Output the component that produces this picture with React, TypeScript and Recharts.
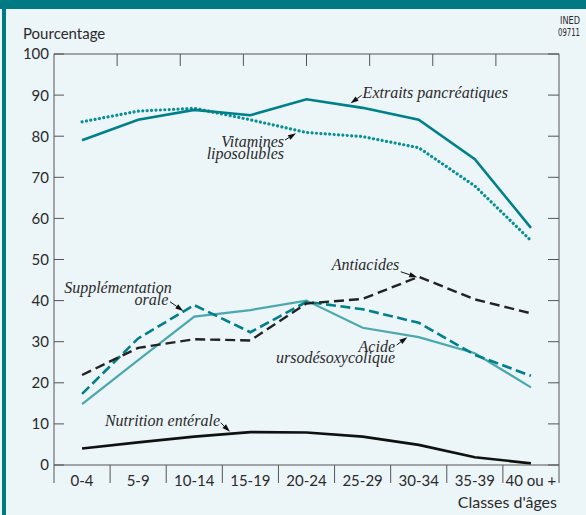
import React from "react";
import { LineChart, Line, XAxis, YAxis, ReferenceDot } from "recharts";

// ---------- data ----------
const categories = ["0-4", "5-9", "10-14", "15-19", "20-24", "25-29", "30-34", "35-39", "40 ou +"];
const extraitsPancreatiques = [79, 84, 86.4, 85.1, 89, 86.9, 84, 74.4, 57.7];
const vitaminesLiposolubles = [83.5, 86.1, 86.8, 84, 80.9, 79.9, 77.2, 67.9, 54.6];
const antiacides = [21.9, 28.5, 30.6, 30.3, 39.3, 40.4, 45.8, 40.3, 36.9];
const supplementationOrale = [17.3, 30.8, 38.9, 32.3, 39.7, 37.9, 34.6, 26.8, 21.7];
const acideUrsodesoxycolique = [14.8, 25.5, 36.1, 37.7, 40.0, 33.4, 31.1, 27.2, 18.9];
const nutritionEnterale = [4.0, 5.5, 6.9, 8.0, 7.9, 6.9, 4.9, 1.9, 0.4];
const yTicks = [0, 10, 20, 30, 40, 50, 60, 70, 80, 90, 100];
const topDivisions = [1, 2, 3, 4, 5, 6, 7];

const data = categories.map((cat, i) => ({
  cat,
  extraits: extraitsPancreatiques[i],
  vitamines: vitaminesLiposolubles[i],
  antiacides: antiacides[i],
  supplementation: supplementationOrale[i],
  acide: acideUrsodesoxycolique[i],
  nutrition: nutritionEnterale[i],
}));

// ---------- layout / style ----------
const W = 586;
const H = 515;
const LEFT_AXIS_W = 54;
const RIGHT_AXIS_W = 27;
const PLOT_W = W - LEFT_AXIS_W - RIGHT_AXIS_W;
const HALF = PLOT_W / categories.length / 2;

const BG = "#ecf5f8";
const FRAME = "#007a82";
const TEAL = "#00808a";
const TEAL_DOT = "#078f96";
const LIGHT_TEAL = "#4aa8ae";
const AXIS = "#555";
const TXT = "#2a2a2a";
const SANS = "Lato, 'Open Sans', sans-serif";
const SERIF = "'Liberation Serif', 'DejaVu Serif', serif";

// ---------- ticks ----------
const LeftTick = (p: any) => (
  <g>
    <line x1={p.x} y1={p.y} x2={p.x + 10} y2={p.y} stroke={AXIS} strokeWidth={1} />
    <text x={p.x - 5} y={p.y} dy="0.36em" textAnchor="end" fontFamily={SANS} fontSize={15} fill={TXT}>
      {p.payload.value}
    </text>
  </g>
);

const RightTick = (p: any) => (
  <line x1={p.x} y1={p.y} x2={p.x - 11} y2={p.y} stroke={AXIS} strokeWidth={1} />
);

const TopTick = (p: any) => (
  <line x1={p.x} y1={p.y} x2={p.x} y2={p.y + 12} stroke={AXIS} strokeWidth={1} />
);

const BottomTick = (p: any) => {
  const idx = p.index ?? p.payload?.index ?? 0;
  const last = idx === categories.length - 1;
  return (
    <g>
      <line x1={p.x - HALF} y1={p.y} x2={p.x - HALF} y2={p.y + 18} stroke={AXIS} strokeWidth={1} />
      {last && <line x1={p.x + HALF} y1={p.y} x2={p.x + HALF} y2={p.y + 18} stroke={AXIS} strokeWidth={1} />}
      <text x={p.x} y={p.y + 21} textAnchor="middle" fontFamily={SANS} fontSize={15} fill={TXT}>
        {p.payload.value}
      </text>
    </g>
  );
};

// ---------- annotations (anchored to data points) ----------
type AnnLine = { t: string; dx: number; dy: number; anchor: "start" | "end" };
type Ann = { cat: string; value: number; lines: AnnLine[]; tail: [number, number]; tip: [number, number] };

const annotations: Ann[] = [
  {
    cat: "25-29", value: 86.9,
    lines: [{ t: "Extraits pancréatiques", dx: 0, dy: -10.3, anchor: "start" }],
    tail: [-1, -12.5], tip: [-12, -4.5],
  },
  {
    cat: "20-24", value: 80.9,
    lines: [
      { t: "Vitamines", dx: -22.5, dy: 14.8, anchor: "end" },
      { t: "liposolubles", dx: -22.5, dy: 26.8, anchor: "end" },
    ],
    tail: [-21.5, 7.5], tip: [-10.5, 0.8],
  },
  {
    cat: "30-34", value: 45.8,
    lines: [{ t: "Antiacides", dx: -19.5, dy: -6.8, anchor: "end" }],
    tail: [-18, -5], tip: [-1.5, 0.5],
  },
  {
    cat: "30-34", value: 31.1,
    lines: [
      { t: "Acide", dx: -23.7, dy: 14.5, anchor: "end" },
      { t: "ursodésoxycolique", dx: -23.7, dy: 26.1, anchor: "end" },
    ],
    tail: [-22, 7.8], tip: [-11.4, 0],
  },
  {
    cat: "10-14", value: 38.9,
    lines: [
      { t: "Supplémentation", dx: -22.6, dy: -11.8, anchor: "end" },
      { t: "orale", dx: -26, dy: -0.1, anchor: "end" },
    ],
    tail: [-24.3, -3.4], tip: [-11, 5.9],
  },
  {
    cat: "15-19", value: 8.0,
    lines: [{ t: "Nutrition entérale", dx: -30.4, dy: -6.4, anchor: "end" }],
    tail: [-29.7, -9.4], tip: [-20.4, -0.4],
  },
];

const makeAnnShape = (a: Ann) => (props: any) => {
  const cx = props.cx;
  const cy = props.cy;
  const tx = cx + a.tail[0];
  const ty = cy + a.tail[1];
  const px = cx + a.tip[0];
  const py = cy + a.tip[1];
  const len = Math.hypot(px - tx, py - ty) || 1;
  const ux = (px - tx) / len;
  const uy = (py - ty) / len;
  const head = Math.min(8, len);
  const bx = px - ux * head;
  const by = py - uy * head;
  const nx = -uy * 2.6;
  const ny = ux * 2.6;
  return (
    <g>
      <line x1={tx} y1={ty} x2={bx} y2={by} stroke="#111" strokeWidth={1} />
      <polygon points={`${px},${py} ${bx + nx},${by + ny} ${bx - nx},${by - ny}`} fill="#111" />
      {a.lines.map((l, i) => (
        <text key={i} x={cx + l.dx} y={cy + l.dy} textAnchor={l.anchor} fontFamily={SERIF}
          fontStyle="italic" fontSize={16} fill={TXT}>
          {l.t}
        </text>
      ))}
    </g>
  );
};

export default function App() {
  return (
    <div style={{ position: "absolute", left: 0, top: 0, width: W, height: H, background: BG, overflow: "hidden" }}>
      <div style={{ position: "absolute", left: 0, top: 0, width: W, height: 9, background: FRAME }} />
      <div style={{ position: "absolute", left: 2, top: 0, width: 4, height: H, background: FRAME }} />
      <div style={{ position: "absolute", left: 0, top: 0 }}>
        <LineChart width={W} height={H} data={data} margin={{ top: 44, right: 0, bottom: 0, left: 0 }}>
          <XAxis
            xAxisId="x" dataKey="cat" type="category" orientation="bottom" height={50}
            padding={{ left: HALF, right: HALF }} interval={0} tickSize={0} tickMargin={0}
            tickLine={false} tick={BottomTick} axisLine={{ stroke: AXIS, strokeWidth: 1 }}
          />
          <XAxis
            xAxisId="top" type="number" orientation="top" domain={[0, 8]} ticks={topDivisions}
            allowDataOverflow height={10} interval={0} tickSize={0} tickMargin={0}
            tickLine={false} tick={TopTick} axisLine={{ stroke: AXIS, strokeWidth: 1 }}
          />
          <YAxis
            yAxisId="left" orientation="left" width={LEFT_AXIS_W} domain={[0, 100]} ticks={yTicks}
            allowDataOverflow interval={0} tickSize={0} tickMargin={0} tickLine={false}
            tick={LeftTick} axisLine={{ stroke: AXIS, strokeWidth: 1 }}
          />
          <YAxis
            yAxisId="right" orientation="right" width={RIGHT_AXIS_W} domain={[0, 100]} ticks={yTicks}
            allowDataOverflow interval={0} tickSize={0} tickMargin={0} tickLine={false}
            tick={RightTick} axisLine={{ stroke: AXIS, strokeWidth: 1 }}
          />
          <Line xAxisId="x" yAxisId="left" type="linear" dataKey="nutrition" stroke="#111" strokeWidth={2.6}
            dot={false} activeDot={false} isAnimationActive={false} />
          <Line xAxisId="x" yAxisId="left" type="linear" dataKey="acide" stroke={LIGHT_TEAL} strokeWidth={2.2}
            dot={false} activeDot={false} isAnimationActive={false} />
          <Line xAxisId="x" yAxisId="left" type="linear" dataKey="supplementation" stroke={TEAL} strokeWidth={2.6}
            strokeDasharray="10 4.5" dot={false} activeDot={false} isAnimationActive={false} />
          <Line xAxisId="x" yAxisId="left" type="linear" dataKey="antiacides" stroke="#222" strokeWidth={2.4}
            strokeDasharray="10 5" dot={false} activeDot={false} isAnimationActive={false} />
          <Line xAxisId="x" yAxisId="left" type="linear" dataKey="vitamines" stroke={TEAL_DOT} strokeWidth={3.2}
            strokeDasharray="0.01 4.4" strokeLinecap="round" dot={false} activeDot={false} isAnimationActive={false} />
          <Line xAxisId="x" yAxisId="left" type="linear" dataKey="extraits" stroke={TEAL} strokeWidth={2.6}
            dot={false} activeDot={false} isAnimationActive={false} />
          {annotations.map((a, i) => (
            <ReferenceDot key={i} xAxisId="x" yAxisId="left" x={a.cat} y={a.value} r={0}
              ifOverflow="visible" shape={makeAnnShape(a)} />
          ))}
        </LineChart>
      </div>
      <svg width={W} height={H} style={{ position: "absolute", left: 0, top: 0, pointerEvents: "none" }}>
        <svg x={0} y={0} width={W} height={9} overflow="hidden">
          <text x={172} y={-6} textLength={249} lengthAdjust="spacingAndGlyphs" fontFamily={SERIF}
            fontWeight="bold" fontSize={20} fill="#ffffff" opacity={0.8}>
            (en pourcentage selon l'âge)
          </text>
        </svg>
        <text x={23} y={39} fontFamily={SANS} fontSize={15} fill={TXT}>Pourcentage</text>
        <text x={557} y={508} textAnchor="end" fontFamily={SANS} fontSize={16} fill={TXT}>Classes d'âges</text>
        <text x={580} y={24} textAnchor="end" textLength={20} lengthAdjust="spacingAndGlyphs"
          fontFamily="'DejaVu Sans Condensed', 'DejaVu Sans', sans-serif" fontSize={11} fill={TXT}>INED</text>
        <text x={580} y={36} textAnchor="end" textLength={22} lengthAdjust="spacingAndGlyphs"
          fontFamily="'DejaVu Sans Condensed', 'DejaVu Sans', sans-serif" fontSize={10} fill={TXT}>09711</text>
      </svg>
    </div>
  );
}
